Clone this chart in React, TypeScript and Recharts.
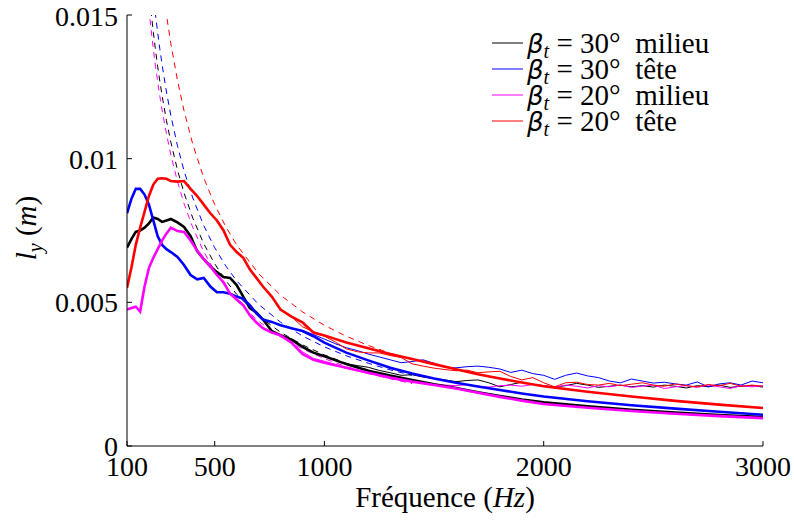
import React from "react";
import { LineChart, Line, XAxis, YAxis, Legend, Label } from "recharts";

const FONT = "Liberation Serif";
const GREEK_FONT = "DejaVu Sans";

const X_TICKS = [100, 500, 1000, 2000, 3000];
const Y_TICKS = [0, 0.005, 0.01, 0.015];

// frequency grids (Hz)
const F_THICK = [
  100, 120, 140, 160, 180, 200, 220, 240, 260, 280,
  300, 330, 360, 390, 420, 450, 480, 510, 540, 570,
  600, 630, 660, 690, 720, 760, 800, 850, 900, 950,
  1000, 1100, 1200, 1300, 1400, 1500, 1600, 1700, 1800, 1900,
  2000, 2200, 2400, 2600, 2800, 3000,
];
const F_THIN = [
  800, 850, 900, 950, 1000, 1050, 1100, 1150, 1200, 1250,
  1300, 1350, 1400, 1450, 1500, 1550, 1600, 1650, 1700, 1750,
  1800, 1850, 1900, 1950, 2000, 2050, 2100, 2150, 2200, 2250,
  2300, 2350, 2400, 2450, 2500, 2550, 2600, 2650, 2700, 2750,
  2800, 2850, 2900, 2950, 3000,
];
const F_DASH = [
  190, 200, 210, 220, 230, 240, 250, 260, 280, 300,
  330, 360, 400, 450, 500, 550, 600, 700, 800, 900,
  1000, 1100, 1200, 1300, 1400,
];

// values in mm (l_y)
const THICK_BLACK = [
  6.9, 7.2, 7.45, 7.5, 7.6, 7.75, 7.95, 7.9, 7.8, 7.85,
  7.9, 7.78, 7.62, 7.3, 6.78, 6.5, 6.25, 6.05, 5.88, 5.85,
  5.6, 5.2, 4.8, 4.65, 4.4, 4.0, 3.86, 3.7, 3.45, 3.25,
  3.12, 2.85, 2.62, 2.45, 2.3, 2.15, 2.02, 1.87, 1.74, 1.62,
  1.52, 1.38, 1.26, 1.16, 1.08, 1.01,
];
const THICK_BLUE = [
  8.1, 8.6, 8.95, 8.95, 8.75, 8.4, 7.85, 7.3, 7.0, 6.85,
  6.75, 6.58, 6.3, 5.95, 5.8, 5.85, 5.55, 5.35, 5.35, 5.3,
  5.2, 5.12, 4.9, 4.62, 4.4, 4.32, 4.2, 4.1, 4.0, 3.82,
  3.6, 3.25, 2.98, 2.72, 2.52, 2.35, 2.2, 2.07, 1.95, 1.83,
  1.72, 1.56, 1.42, 1.3, 1.19, 1.09,
];
const THICK_MAGENTA = [
  4.75, 4.8, 4.85, 4.68, 5.55, 6.2, 6.55, 6.85, 7.15, 7.4,
  7.6, 7.48, 7.45, 7.15, 6.8, 6.5, 6.25, 5.95, 5.7, 5.3,
  5.1, 4.9, 4.55, 4.3, 4.1, 3.95, 3.85, 3.6, 3.2, 3.0,
  2.9, 2.72, 2.55, 2.38, 2.24, 2.12, 2.0, 1.85, 1.71, 1.58,
  1.46, 1.33, 1.22, 1.12, 1.04, 0.97,
];
const THICK_RED = [
  5.5, 6.2, 7.0, 7.6, 8.15, 8.7, 9.1, 9.3, 9.32, 9.3,
  9.22, 9.2, 9.22, 8.95, 8.7, 8.4, 8.1, 7.85, 7.5, 7.0,
  6.75, 6.55, 6.15, 5.85, 5.55, 5.2, 4.75, 4.5, 4.3, 3.95,
  3.85, 3.6, 3.4, 3.2, 3.03, 2.85, 2.67, 2.5, 2.35, 2.21,
  2.08, 1.89, 1.72, 1.57, 1.44, 1.32,
];

const THIN_BLACK = [
  3.86, 3.72, 3.48, 3.25, 3.12, 2.98, 2.86, 2.8, 2.74, 2.63,
  2.55, 2.46, 2.48, 2.4, 2.35, 2.3, 2.24, 2.28, 2.3, 2.2,
  2.06, 2.14, 2.22, 2.15, 2.1, 2.05, 2.1, 2.18, 2.12, 2.04,
  2.08, 2.12, 2.06, 2.1, 2.05, 2.12, 2.08, 2.02, 2.1, 2.06,
  2.12, 2.04, 2.08, 2.1, 2.05,
];
const THIN_BLUE = [
  4.22, 4.1, 4.02, 3.88, 3.72, 3.56, 3.42, 3.32, 3.2, 3.1,
  3.0, 2.9, 2.94, 3.0, 2.88, 2.74, 2.72, 2.76, 2.78, 2.74,
  2.68, 2.56, 2.64, 2.52, 2.46, 2.32, 2.46, 2.54, 2.44, 2.38,
  2.26, 2.2, 2.33, 2.26, 2.19, 2.22, 2.16, 2.12, 2.23, 2.06,
  2.16, 2.2, 2.12, 2.26, 2.2,
];
const THIN_MAGENTA = [
  3.86, 3.58, 3.28, 3.05, 2.95, 2.84, 2.7, 2.62, 2.52, 2.46,
  2.36, 2.28, 2.24, 2.2, 2.15, 2.12, 2.1, 2.14, 2.08, 2.05,
  2.1, 2.12, 2.08, 2.14, 2.1, 2.04, 2.12, 2.08, 2.02, 2.1,
  2.06, 2.12, 2.04, 2.08, 2.12, 2.0, 2.06, 2.1, 2.04, 2.12,
  2.06, 2.0, 2.1, 2.06, 2.1,
];
const THIN_RED = [
  4.75, 4.5, 4.15, 3.98, 3.82, 3.62, 3.38, 3.28, 3.24, 3.24,
  3.15, 3.08, 2.86, 2.78, 2.71, 2.66, 2.62, 2.64, 2.55, 2.58,
  2.6, 2.42, 2.3, 2.38, 2.2, 2.06, 2.2, 2.22, 2.14, 2.12,
  2.18, 2.1, 2.15, 2.2, 2.12, 2.08, 2.16, 2.1, 2.06, 2.14,
  2.1, 2.18, 2.08, 2.12, 2.08,
];

const DASH_BLACK = [
  16.7, 15.85, 15.1, 14.4, 13.78, 13.2, 12.68, 12.19, 11.32, 10.57,
  9.61, 8.81, 7.93, 7.04, 6.34, 5.76, 5.28, 4.53, 3.96, 3.52,
  3.17, 2.88, 2.64, 2.44, 2.26,
];
const DASH_BLUE = [
  18.16, 17.25, 16.43, 15.68, 15.0, 14.38, 13.8, 13.27, 12.32, 11.5,
  10.45, 9.58, 8.63, 7.67, 6.9, 6.27, 5.75, 4.93, 4.31, 3.83,
  3.45, 3.14, 2.88, 2.65, 2.46,
];
const DASH_MAGENTA = [
  16.0, 15.2, 14.48, 13.82, 13.22, 12.67, 12.16, 11.69, 10.86, 10.13,
  9.21, 8.44, 7.6, 6.76, 6.08, 5.53, 5.07, 4.34, 3.8, 3.38,
  3.04, 2.76, 2.53, 2.34, 2.17,
];
const DASH_RED = [
  22.1, 21, 20, 19.1, 18.26, 17.5, 16.8, 16.15, 15.0, 14.0,
  12.73, 11.67, 10.5, 9.33, 8.4, 7.64, 7.0, 6.0, 5.25, 4.67,
  4.2, 3.82, 3.5, 3.23, 3.0,
];

const SERIES = [
  { key: "b30m", color: "#000000", angle: "30", pos: "milieu", thick: THICK_BLACK, thin: THIN_BLACK, dash: DASH_BLACK },
  { key: "b30t", color: "#0000ff", angle: "30", pos: "tête", thick: THICK_BLUE, thin: THIN_BLUE, dash: DASH_BLUE },
  { key: "b20m", color: "#ff00ff", angle: "20", pos: "milieu", thick: THICK_MAGENTA, thin: THIN_MAGENTA, dash: DASH_MAGENTA },
  { key: "b20t", color: "#ff0000", angle: "20", pos: "tête", thick: THICK_RED, thin: THIN_RED, dash: DASH_RED },
];

const toPoints = (freqs: number[], mm: number[]) =>
  freqs.map((f, i) => ({ f, v: mm[i] / 1000 }));

const renderLegend = () => (
  <div style={{ fontFamily: FONT, fontSize: 29, color: "#000", lineHeight: "26px" }}>
    {SERIES.map((s) => (
      <div key={s.key} style={{ fontFamily: FONT, display: "flex", alignItems: "center", height: 26, whiteSpace: "nowrap" }}>
        <svg width={34} height={6} style={{ marginRight: 3 }}>
          <line x1={2} y1={3} x2={33} y2={3} stroke={s.color} strokeWidth={1} />
        </svg>
        <span style={{ fontFamily: FONT }}>
          <i style={{ fontFamily: GREEK_FONT, fontSize: 26 }}>β</i>
          <sub style={{ fontFamily: FONT, fontSize: 20, fontStyle: "italic", verticalAlign: "-5px", lineHeight: 0 }}>t</sub>
          {" = "}
          {s.angle}°&nbsp;&nbsp;{s.pos}
        </span>
      </div>
    ))}
  </div>
);

const XTitle = () => (
  <text x={445} y={507} textAnchor="middle" fontFamily={FONT} fontSize={29} fill="#000">
    Fréquence (<tspan fontStyle="italic">Hz</tspan>)
  </text>
);

const YTitle = () => (
  <text
    x={36}
    y={228}
    textAnchor="middle"
    fontFamily={FONT}
    fontSize={29}
    fill="#000"
    transform="rotate(-90 36 228)"
  >
    <tspan fontStyle="italic">l</tspan>
    <tspan fontStyle="italic" fontSize={20} dy={6}>y</tspan>
    <tspan dy={-6}> (</tspan>
    <tspan fontStyle="italic">m</tspan>
    <tspan>)</tspan>
  </text>
);

const noLabel = () => "";

export default function App() {
  return (
    <div style={{ position: "absolute", left: 0, top: 0, background: "#fff" }}>
      <LineChart width={794} height={524} margin={{ top: 15, right: 31, bottom: 0, left: 0 }}>
        <XAxis
          type="number"
          dataKey="f"
          domain={[100, 3000]}
          ticks={X_TICKS}
          height={78}
          stroke="#000"
          tickSize={-5}
          tickMargin={15}
          tick={{ fontFamily: FONT, fontSize: 28, fill: "#000" }}
          allowDataOverflow
        >
          <Label content={<XTitle />} />
        </XAxis>
        <XAxis
          xAxisId="top"
          orientation="top"
          type="number"
          dataKey="f"
          domain={[100, 3000]}
          ticks={X_TICKS}
          height={0}
          stroke="#000"
          tickSize={-5}
          tickFormatter={noLabel}
        />
        <YAxis
          type="number"
          domain={[0, 0.015]}
          ticks={Y_TICKS}
          width={127}
          stroke="#000"
          tickSize={-5}
          tickMargin={14}
          tick={{ fontFamily: FONT, fontSize: 28, fill: "#000" }}
          tickFormatter={(v: number) => String(v)}
          allowDataOverflow
        >
          <Label content={<YTitle />} />
        </YAxis>
        <YAxis
          yAxisId="right"
          orientation="right"
          type="number"
          domain={[0, 0.015]}
          ticks={Y_TICKS}
          width={0}
          stroke="#000"
          tickSize={-5}
          tickFormatter={noLabel}
        />
        <Legend
          content={renderLegend}
          layout="vertical"
          align="center"
          verticalAlign="middle"
          wrapperStyle={{ left: 490, top: 30, width: 272 }}
        />
        {SERIES.map((s) => (
          <Line
            key={s.key + "-dash"}
            data={toPoints(F_DASH, s.dash)}
            dataKey="v"
            type="linear"
            stroke={s.color}
            strokeWidth={1}
            strokeDasharray="6 5"
            dot={false}
            isAnimationActive={false}
            legendType="none"
          />
        ))}
        {SERIES.map((s) => (
          <Line
            key={s.key + "-thin"}
            data={toPoints(F_THIN, s.thin)}
            dataKey="v"
            type="linear"
            stroke={s.color}
            strokeWidth={1}
            dot={false}
            isAnimationActive={false}
            legendType="none"
          />
        ))}
        {SERIES.map((s) => (
          <Line
            key={s.key + "-thick"}
            data={toPoints(F_THICK, s.thick)}
            dataKey="v"
            type="linear"
            stroke={s.color}
            strokeWidth={2.6}
            dot={false}
            isAnimationActive={false}
            legendType="none"
          />
        ))}
      </LineChart>
    </div>
  );
}
